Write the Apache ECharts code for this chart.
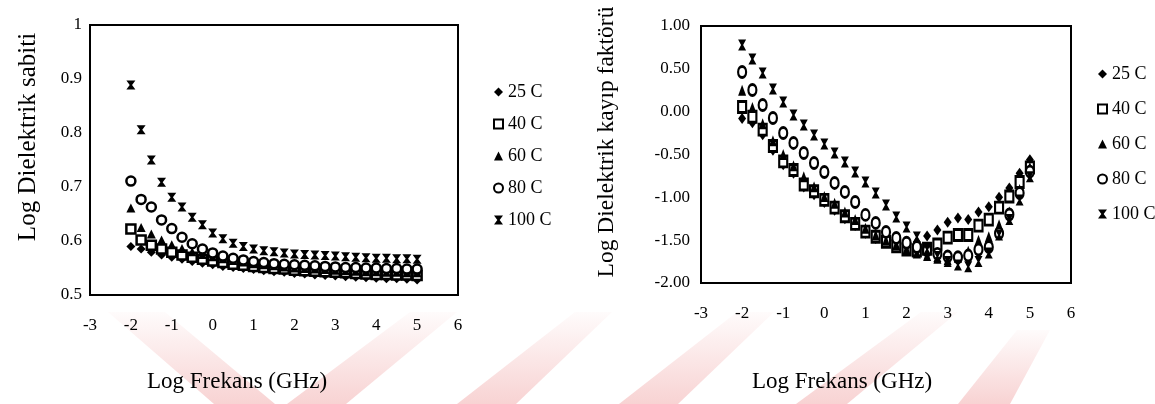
<!DOCTYPE html>
<html>
<head>
<meta charset="utf-8">
<title>Log Dielektrik</title>
<script src="https://cdn.jsdelivr.net/npm/echarts@6/dist/echarts.min.js"></script>
<style>
  html, body { margin: 0; padding: 0; background: #fff; }
  #main { width: 1155px; height: 404px; }
</style>
</head>
<body>
<div id="main"></div>
<script>
// log frekans noktalari (her iki grafik icin ayni)
var logFreq = [-2, -1.75, -1.5, -1.25, -1, -0.75, -0.5, -0.25, 0, 0.25, 0.5, 0.75, 1, 1.25, 1.5, 1.75, 2, 2.25, 2.5, 2.75, 3, 3.25, 3.5, 3.75, 4, 4.25, 4.5, 4.75, 5];
var tempNames = ['25 C', '40 C', '60 C', '80 C', '100 C'];

// Log dielektrik sabiti
var eps25 = [0.59, 0.585, 0.579, 0.574, 0.57, 0.566, 0.562, 0.559, 0.556, 0.553, 0.551, 0.549, 0.547, 0.545, 0.543, 0.542, 0.54, 0.539, 0.537, 0.536, 0.535, 0.534, 0.533, 0.532, 0.531, 0.53, 0.53, 0.529, 0.528];
var eps40 = [0.622, 0.602, 0.592, 0.585, 0.579, 0.574, 0.57, 0.566, 0.563, 0.56, 0.557, 0.555, 0.553, 0.551, 0.549, 0.548, 0.546, 0.545, 0.544, 0.543, 0.542, 0.541, 0.54, 0.539, 0.538, 0.538, 0.537, 0.537, 0.536];
var eps60 = [0.661, 0.625, 0.613, 0.602, 0.593, 0.586, 0.58, 0.575, 0.571, 0.567, 0.564, 0.561, 0.558, 0.556, 0.554, 0.552, 0.55, 0.549, 0.548, 0.547, 0.546, 0.545, 0.544, 0.543, 0.543, 0.542, 0.542, 0.541, 0.541];
var eps80 = [0.711, 0.677, 0.663, 0.639, 0.623, 0.607, 0.595, 0.585, 0.578, 0.572, 0.568, 0.565, 0.562, 0.56, 0.558, 0.557, 0.556, 0.555, 0.554, 0.553, 0.552, 0.551, 0.551, 0.55, 0.55, 0.549, 0.549, 0.548, 0.548];
var eps100 = [0.889, 0.806, 0.75, 0.709, 0.681, 0.663, 0.644, 0.63, 0.615, 0.604, 0.596, 0.59, 0.585, 0.582, 0.58, 0.578, 0.576, 0.575, 0.574, 0.573, 0.572, 0.571, 0.57, 0.569, 0.568, 0.568, 0.567, 0.567, 0.566];

// Log dielektrik kayip faktoru
var loss25 = [-0.08, -0.13, -0.27, -0.45, -0.62, -0.72, -0.88, -0.97, -1.06, -1.15, -1.25, -1.33, -1.42, -1.48, -1.52, -1.55, -1.56, -1.52, -1.45, -1.38, -1.29, -1.24, -1.26, -1.17, -1.11, -1.0, -0.89, -0.72, -0.56];
var loss40 = [0.055, -0.06, -0.21, -0.4, -0.58, -0.68, -0.85, -0.93, -1.03, -1.12, -1.22, -1.31, -1.4, -1.46, -1.52, -1.57, -1.61, -1.62, -1.6, -1.55, -1.47, -1.44, -1.44, -1.33, -1.26, -1.12, -0.99, -0.82, -0.65];
var loss60 = [0.25, 0.05, -0.14, -0.34, -0.5, -0.63, -0.76, -0.875, -0.99, -1.07, -1.17, -1.26, -1.36, -1.44, -1.5, -1.55, -1.6, -1.65, -1.68, -1.71, -1.73, -1.7, -1.63, -1.5, -1.46, -1.32, -1.17, -0.91, -0.65];
var loss80 = [0.463, 0.253, 0.078, -0.074, -0.249, -0.365, -0.482, -0.599, -0.704, -0.832, -0.937, -1.054, -1.205, -1.299, -1.404, -1.474, -1.53, -1.58, -1.62, -1.66, -1.69, -1.7, -1.68, -1.61, -1.58, -1.42, -1.2, -0.95, -0.7];
var loss100 = [0.778, 0.615, 0.452, 0.265, 0.113, -0.039, -0.155, -0.272, -0.377, -0.482, -0.587, -0.704, -0.82, -0.949, -1.089, -1.229, -1.345, -1.462, -1.61, -1.69, -1.75, -1.79, -1.81, -1.75, -1.65, -1.44, -1.26, -1.03, -0.76];

var FONT = '"Liberation Serif", "DejaVu Serif", serif';
var hourglass = 'path://M0,0H10L6.3,5L10,10H0L3.7,5Z';

// marker stilleri: elmas, bos kare, ucgen, bos daire, kum saati
var markers = [
  { symbol: 'diamond', color: '#000', border: 0 },
  { symbol: 'rect', color: '#fff', border: 2.5 },
  { symbol: 'triangle', color: '#000', border: 0 },
  { symbol: 'circle', color: '#fff', border: 2.5 },
  { symbol: hourglass, color: '#000', border: 0 }
];

function pairs(ys) {
  var out = [];
  for (var i = 0; i < logFreq.length; i++) out.push([logFreq[i], ys[i]]);
  return out;
}

function makeSeries(idx, lists, size) {
  return lists.map(function (ys, k) {
    return {
      name: tempNames[k],
      type: 'scatter',
      xAxisIndex: idx,
      yAxisIndex: idx,
      symbol: markers[k].symbol,
      symbolSize: size,
      itemStyle: { color: markers[k].color, borderColor: '#000', borderWidth: markers[k].border, opacity: 1 },
      data: pairs(ys)
    };
  });
}

function xAxisCfg(idx, margin) {
  return {
    gridIndex: idx, type: 'value', min: -3, max: 6, interval: 1,
    axisLine: { show: false }, axisTick: { show: false }, splitLine: { show: false },
    axisLabel: { margin: margin, color: '#000', fontFamily: FONT, fontSize: 17, showMinLabel: true, showMaxLabel: true }
  };
}

function vTitle(text, x, y, size) {
  return {
    type: 'text', x: x, y: y, rotation: Math.PI / 2,
    style: { text: text, fill: '#000', font: size + 'px ' + FONT, align: 'center', verticalAlign: 'middle' }
  };
}

// pembe filigran seritleri
var bands = [
  [[108, 312], [165, 312], [275, 404], [214, 404]],
  [[287, 404], [346, 404], [457, 312], [410, 312]],
  [[457, 404], [516, 404], [612, 312], [575, 312]],
  [[619, 404], [678, 404], [774, 312], [737, 312]],
  [[796, 404], [847, 404], [958, 312], [921, 312]],
  [[958, 404], [1010, 404], [1050, 330], [1017, 330]]
];
var bandGraphics = bands.map(function (pts) {
  return {
    type: 'polygon', z: -10, silent: true,
    shape: { points: pts },
    style: {
      fill: {
        type: 'linear', x: 0, y: 0, x2: 0, y2: 1,
        colorStops: [{ offset: 0, color: 'rgba(225,70,70,0.02)' }, { offset: 1, color: 'rgba(225,70,70,0.24)' }]
      }
    }
  };
});

var myChart = echarts.init(document.getElementById('main'));
var option = {
  animation: false,
  backgroundColor: '#fff',
  grid: [
    { left: 90, top: 25, width: 368, height: 270, show: true, borderColor: '#000', borderWidth: 2 },
    { left: 701, top: 26, width: 370, height: 257, show: true, borderColor: '#000', borderWidth: 2 }
  ],
  xAxis: [xAxisCfg(0, 22), xAxisCfg(1, 22)],
  yAxis: [
    {
      gridIndex: 0, type: 'value', min: 0.5, max: 1, interval: 0.1,
      axisLine: { show: false }, axisTick: { show: false }, splitLine: { show: false },
      axisLabel: {
        margin: 8, color: '#000', fontFamily: FONT, fontSize: 17,
        formatter: function (v) { return v >= 0.999 ? '1' : v.toFixed(1); }
      }
    },
    {
      gridIndex: 1, type: 'value', min: -2, max: 1, interval: 0.5,
      axisLine: { show: false }, axisTick: { show: false }, splitLine: { show: false },
      axisLabel: {
        margin: 11, color: '#000', fontFamily: FONT, fontSize: 17,
        formatter: function (v) { return v.toFixed(2); }
      }
    }
  ],
  legend: [
    {
      data: tempNames, orient: 'vertical', left: 488, top: 78, itemGap: 14,
      itemWidth: 9, itemHeight: 9,
      textStyle: { color: '#000', fontFamily: FONT, fontSize: 18 }
    },
    {
      data: tempNames, orient: 'vertical', left: 1092, top: 60, itemGap: 17,
      itemWidth: 9, itemHeight: 9,
      textStyle: { color: '#000', fontFamily: FONT, fontSize: 18 }
    }
  ],
  graphic: bandGraphics.concat([
    vTitle('Log Dielektrik sabiti', 28, 137, 25),
    vTitle('Log Dielektrik kayıp faktörü', 607, 142, 23.5),
    {
      type: 'text', left: 147, top: 370,
      style: { text: 'Log Frekans (GHz)', fill: '#000', font: '23px ' + FONT }
    },
    {
      type: 'text', left: 752, top: 370,
      style: { text: 'Log Frekans (GHz)', fill: '#000', font: '23px ' + FONT }
    }
  ]),
  series: makeSeries(0, [eps25, eps40, eps60, eps80, eps100], 9)
    .concat(makeSeries(1, [loss25, loss40, loss60, loss80, loss100], [8, 11]))
};
myChart.setOption(option);
</script>
</body>
</html>
